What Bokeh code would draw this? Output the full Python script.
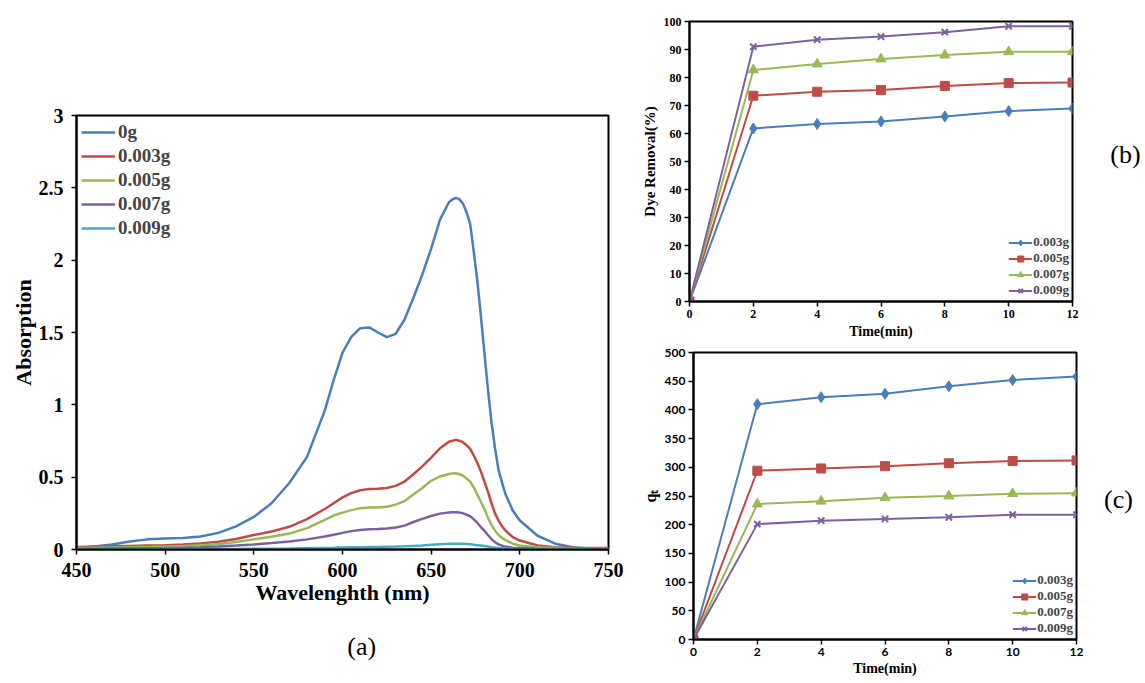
from bokeh.plotting import figure
from bokeh.models import Range1d, FixedTicker, NumeralTickFormatter, Label
from bokeh.layouts import row, column
from bokeh.embed import file_html
from bokeh.resources import INLINE

# ---------------- data: panel (a) ----------------
wavelength = [450, 460, 470, 480, 490, 500, 510, 520, 530, 540, 550, 560, 570, 580, 590, 595,
              600, 605, 610, 615, 620, 625, 630, 635, 640, 645, 650, 655, 660, 662, 664, 666,
              668, 670, 672, 674, 676, 678, 680, 682, 684, 686, 688, 690, 692, 696, 700, 710,
              720, 730, 740, 750]
abs_0g = [0.007, 0.02, 0.035, 0.055, 0.07, 0.076, 0.08, 0.09, 0.115, 0.16, 0.225, 0.32, 0.46, 0.64,
          0.96, 1.17, 1.36, 1.47, 1.53, 1.535, 1.50, 1.468, 1.49, 1.59, 1.74, 1.90, 2.08, 2.28, 2.40,
          2.42, 2.43, 2.42, 2.39, 2.33, 2.25, 2.06, 1.86, 1.62, 1.36, 1.11, 0.88, 0.70, 0.55, 0.46,
          0.38, 0.27, 0.20, 0.095, 0.04, 0.015, 0.006, 0.003]
abs_003 = [0.018, 0.02, 0.022, 0.025, 0.028, 0.03, 0.035, 0.042, 0.053, 0.072, 0.1, 0.125, 0.157, 0.21,
           0.28, 0.32, 0.36, 0.39, 0.41, 0.418, 0.42, 0.425, 0.44, 0.47, 0.52, 0.575, 0.635, 0.70, 0.745,
           0.752, 0.758, 0.752, 0.74, 0.72, 0.695, 0.65, 0.60, 0.54, 0.47, 0.40, 0.32, 0.25, 0.20, 0.16,
           0.13, 0.085, 0.062, 0.028, 0.015, 0.012, 0.01, 0.01]
abs_005 = [0.01, 0.012, 0.014, 0.016, 0.018, 0.02, 0.024, 0.03, 0.038, 0.052, 0.07, 0.088, 0.11, 0.148,
           0.205, 0.235, 0.255, 0.272, 0.285, 0.29, 0.29, 0.295, 0.31, 0.335, 0.38, 0.425, 0.475, 0.505,
           0.522, 0.525, 0.527, 0.52, 0.51, 0.49, 0.47, 0.43, 0.38, 0.33, 0.28, 0.22, 0.17, 0.13, 0.10,
           0.08, 0.065, 0.04, 0.028, 0.015, 0.01, 0.007, 0.005, 0.005]
abs_007 = [0.005, 0.006, 0.007, 0.008, 0.009, 0.01, 0.012, 0.015, 0.02, 0.027, 0.035, 0.045, 0.056, 0.07,
           0.09, 0.102, 0.115, 0.127, 0.135, 0.14, 0.142, 0.145, 0.152, 0.165, 0.19, 0.212, 0.232, 0.248,
           0.256, 0.257, 0.258, 0.255, 0.25, 0.24, 0.23, 0.21, 0.185, 0.155, 0.13, 0.10, 0.072, 0.05,
           0.035, 0.027, 0.02, 0.012, 0.01, 0.006, 0.004, 0.003, 0.003, 0.003]
abs_009 = [0.002, 0.002, 0.002, 0.002, 0.002, 0.003, 0.003, 0.003, 0.004, 0.004, 0.005, 0.006, 0.007, 0.009,
           0.011, 0.012, 0.014, 0.015, 0.016, 0.017, 0.018, 0.019, 0.02, 0.022, 0.025, 0.028, 0.032, 0.036,
           0.039, 0.04, 0.04, 0.04, 0.039, 0.038, 0.036, 0.033, 0.03, 0.027, 0.024, 0.02, 0.016, 0.013,
           0.01, 0.008, 0.006, 0.004, 0.003, 0.002, 0.002, 0.002, 0.002, 0.002]
labels_a = ["0g", "0.003g", "0.005g", "0.007g", "0.009g"]

# ---------------- data: panels (b) and (c) ----------------
time_min = [0, 2, 4, 6, 8, 10, 12]
removal_003 = [0, 61.8, 63.4, 64.3, 66.1, 68.0, 68.9]
removal_005 = [0, 73.5, 74.9, 75.5, 77.0, 78.0, 78.2]
removal_007 = [0, 82.7, 84.8, 86.6, 88.0, 89.2, 89.2]
removal_009 = [0, 91.0, 93.5, 94.6, 96.2, 98.3, 98.3]
qt_003 = [0, 410, 422, 428, 441, 452, 458]
qt_005 = [0, 294, 298, 302, 307, 311, 312]
qt_007 = [0, 236, 241, 247, 250, 254, 255]
qt_009 = [0, 201, 207, 210, 213, 217.5, 217.5]
labels_bc = ["0.003g", "0.005g", "0.007g", "0.009g"]
panel_tags = ["(a)", "(b)", "(c)"]

BLUE, RED, GREEN, PURPLE, CYAN = "#4A7EBB", "#BE4B48", "#98B954", "#7D60A0", "#46AAC5"
SERIF = "Liberation Serif"


def style(p, tick_font, tick_size, label_size, tick_standoff, label_standoff):
    p.grid.visible = False
    p.outline_line_color = "black"
    p.outline_line_width = 2
    for ax in (p.xaxis[0], p.yaxis[0]):
        ax.axis_line_color = "black"
        ax.axis_line_width = 2
        ax.major_tick_line_color = "black"
        ax.major_tick_line_width = 1.5
        ax.major_tick_in = 0
        ax.major_tick_out = 5
        ax.minor_tick_line_color = None
        ax.major_label_text_font = tick_font
        ax.major_label_text_font_style = "bold"
        ax.major_label_text_font_size = tick_size
        ax.major_label_text_color = "black"
        ax.major_label_standoff = tick_standoff
        ax.axis_label_text_font = SERIF
        ax.axis_label_text_font_style = "bold"
        ax.axis_label_text_font_size = label_size
        ax.axis_label_text_color = "black"
        ax.axis_label_standoff = label_standoff


def tag_figure(w, h, text, x, y):
    f = figure(width=w, height=h, x_range=Range1d(0, w), y_range=Range1d(0, h),
               x_axis_type=None, y_axis_type=None, output_backend="svg", toolbar_location=None,
               min_border=0, title=None)
    f.outline_line_color = None
    f.grid.visible = False
    f.add_layout(Label(x=x, y=y, text=text, text_font=SERIF, text_font_size="26px",
                       text_align="center", text_baseline="middle", text_color="black"))
    return f


# ---------------- panel (a) ----------------
p_a = figure(width=638, height=620, x_range=Range1d(450, 750), y_range=Range1d(0, 3),
             output_backend="svg", toolbar_location=None,
             min_border_left=76, min_border_right=30, min_border_top=115, min_border_bottom=71)
style(p_a, SERIF, "20px", "22px", 8, 0)
p_a.xaxis.axis_label = "Wavelenghth (nm)"
p_a.yaxis.axis_label = "Absorption"
p_a.xaxis.ticker = FixedTicker(ticks=[450, 500, 550, 600, 650, 700, 750])
p_a.yaxis.ticker = FixedTicker(ticks=[0, 0.5, 1, 1.5, 2, 2.5, 3])
p_a.yaxis.formatter = NumeralTickFormatter(format="0.[0]")

for ys, col, lab in zip([abs_0g, abs_003, abs_005, abs_007, abs_009],
                        [BLUE, RED, GREEN, PURPLE, CYAN], labels_a):
    p_a.line(wavelength, ys, line_color=col, line_width=2.5, legend_label=lab)

lg = p_a.legend[0]
lg.location = "top_left"
lg.background_fill_alpha = 0
lg.border_line_alpha = 0
lg.margin = 1
lg.padding = 4
lg.spacing = 0
lg.glyph_width = 34
lg.glyph_height = 24
lg.label_height = 24
lg.label_standoff = 3
lg.label_text_font = SERIF
lg.label_text_font_style = "bold"
lg.label_text_font_size = "19px"

tag_a = tag_figure(638, 63, panel_tags[0], 342, 37)


def kinetics(p, series):
    markers = [("diamond", 11), ("square", 9), ("triangle", 10), ("x", 9)]
    for ys, col, lab, (mk, sz) in zip(series, [BLUE, RED, GREEN, PURPLE], labels_bc, markers):
        p.line(time_min, ys, line_color=col, line_width=2, legend_label=lab)
        p.scatter(time_min, ys, marker=mk, size=sz, fill_color=col, line_color=col,
                  line_width=2 if mk == "x" else 1, legend_label=lab)
    lg = p.legend[0]
    lg.location = "bottom_right"
    lg.background_fill_alpha = 0
    lg.border_line_alpha = 0
    lg.margin = 2
    lg.padding = 1
    lg.spacing = 0
    lg.glyph_width = 24
    lg.glyph_height = 15
    lg.label_height = 15
    lg.label_standoff = 1
    lg.label_text_font = SERIF
    lg.label_text_font_style = "bold"
    lg.label_text_font_size = "13px"
    p.xaxis.ticker = FixedTicker(ticks=[0, 2, 4, 6, 8, 10, 12])


# ---------------- panel (b) ----------------
p_b = figure(width=447, height=345, x_range=Range1d(0, 12), y_range=Range1d(0, 100),
             output_backend="svg", toolbar_location=None,
             min_border_left=50, min_border_right=13, min_border_top=21, min_border_bottom=44)
style(p_b, SERIF, "12px", "14px", 3, 3)
p_b.yaxis.axis_label_text_font_size = "15px"
p_b.xaxis.axis_label = "Time(min)"
p_b.yaxis.axis_label = "Dye Removal(%)"
p_b.yaxis.ticker = FixedTicker(ticks=list(range(0, 101, 10)))
kinetics(p_b, [removal_003, removal_005, removal_007, removal_009])
tag_b = tag_figure(60, 345, panel_tags[1], 40, 181)

# ---------------- panel (c) ----------------
p_c = figure(width=447, height=338, x_range=Range1d(0, 12), y_range=Range1d(0, 500),
             output_backend="svg", toolbar_location=None,
             min_border_left=51, min_border_right=9, min_border_top=7, min_border_bottom=44)
style(p_c, "Lato", "12px", "14px", 3, 2)
p_c.yaxis.axis_label_text_font_size = "16px"
p_c.yaxis.axis_label_standoff = 3
p_c.xaxis.axis_label = "Time(min)"
p_c.yaxis.axis_label = "qₜ"
p_c.yaxis.ticker = FixedTicker(ticks=list(range(0, 501, 50)))
kinetics(p_c, [qt_003, qt_005, qt_007, qt_009])
tag_c = tag_figure(60, 338, panel_tags[2], 33, 165)

layout = row(column(p_a, tag_a), column(row(p_b, tag_b), row(p_c, tag_c)))
open("out.html", "w").write(file_html(layout, INLINE))
